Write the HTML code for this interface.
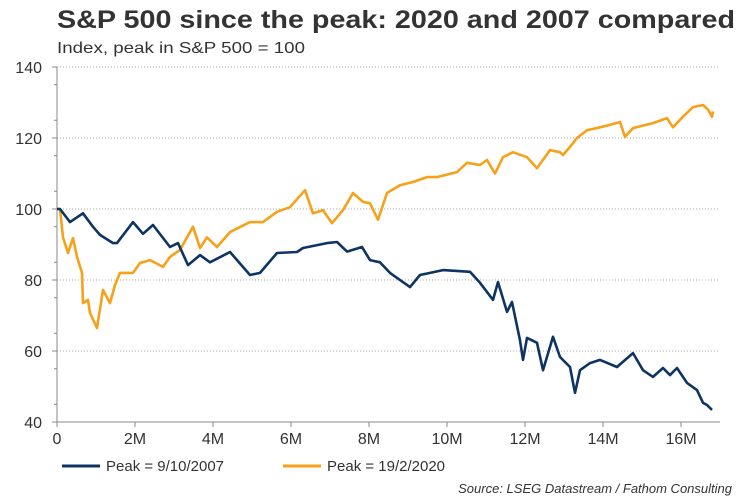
<!DOCTYPE html>
<html><head><meta charset="utf-8"><style>
body{margin:0;background:#fff;}
svg{display:block;font-family:"Liberation Sans",Arial,sans-serif;}
</style></head><body>
<svg width="750" height="500" viewBox="0 0 750 500">
<text x="57" y="28" font-size="25" font-weight="bold" fill="#333" textLength="678" lengthAdjust="spacingAndGlyphs">S&amp;P 500 since the peak: 2020 and 2007 compared</text>
<text x="57" y="53" font-size="16" fill="#333" textLength="248" lengthAdjust="spacingAndGlyphs">Index, peak in S&amp;P 500 = 100</text>
<g id="grid"></g><g id="axes"></g><g id="series"></g>
<line x1="62" y1="466" x2="100" y2="466" stroke="#0d3463" stroke-width="3"/>
<text x="106" y="471" font-size="15" fill="#333">Peak = 9/10/2007</text>
<line x1="283" y1="466" x2="321" y2="466" stroke="#f7a11a" stroke-width="3"/>
<text x="327" y="471" font-size="15" fill="#333">Peak = 19/2/2020</text>
<text x="732" y="493" text-anchor="end" font-size="13" font-style="italic" fill="#333">Source: LSEG Datastream / Fathom Consulting</text>
</svg>
<script>
const xTicks=[0,2,4,6,8,10,12,14,16];
const xTickLabels=["0","2M","4M","6M","8M","10M","12M","14M","16M"];
const yTicks=[40,60,80,100,120,140];
const xPix2007=[57,60,70,83,93,100,113,117,133,143,153,170,178,188,200,210,230,250,260,277,297,303,327,337,347,362,370,380,390,410,420,443,470,480,493,498,507,512,520,523,527,537,543,553,560,570,575,580,590,600,617,633,643,653,663,670,677,687,697,703,707,712];
const months2007=xPix2007.map(p=>(p-57)/39);
const values2007=[100,100,96.3,98.8,95,92.7,90.4,90.4,96.3,93,95.5,89.3,90.4,84.2,87,85,87.9,81.4,82,87.6,87.9,89,90.4,90.7,88,89.3,85.6,85,82,78,81.4,82.8,82.3,79.2,74.4,79.4,71,73.8,63,57.5,63.7,62.3,54.6,64,58.3,55.5,48.2,54.6,56.6,57.5,55.5,59.4,54.6,52.7,55.2,53.2,55.2,51,49,45.4,44.8,43.4];
const xPix2020=[57,60,63,68,73,77,82,83,88,90,97,103,110,115,120,133,140,150,163,170,180,193,200,207,217,230,250,263,277,290,305,313,323,332,343,353,363,370,378,387,400,413,427,437,457,467,480,487,495,503,513,527,532,537,550,560,563,570,577,587,600,610,620,625,633,653,667,673,683,693,703,708,712,713];
const months2020=xPix2020.map(p=>(p-57)/39);
const values2020=[100,100,92,87.6,91.8,86.5,82,73.5,74.4,70.7,66.5,77.2,73.5,78.6,82,82,84.8,85.6,83.7,86.5,88.5,95,89,92,89.3,93.5,96.3,96.3,99.2,100.5,105.3,98.8,99.7,96,99.7,104.5,102,101.6,97,104.5,106.7,107.6,109,109,110.4,113,112.4,113.8,110,114.6,116,114.6,113,111.5,116.6,116,115.2,117.5,120,122.2,123,123.7,124.5,120.3,122.8,124.2,125.6,123,126,128.7,129.3,128,126,127.5];
const X=m=>57+39*m, Y=v=>67+(140-v)*3.55;
const NS='http://www.w3.org/2000/svg';
function mk(t,a,p){const e=document.createElementNS(NS,t);for(const k in a)e.setAttribute(k,a[k]);p.appendChild(e);return e;}
const grid=document.getElementById('grid'),axes=document.getElementById('axes'),ser=document.getElementById('series');
yTicks.forEach(v=>{
 if(v>40){const g=mk('line',{x1:57,x2:720,y1:Y(v),y2:Y(v),stroke:'#aaa','stroke-dasharray':'1,2','stroke-width':1},grid);
 
 }
 const t=mk('text',{x:42,y:Y(v)+6,'text-anchor':'end','font-size':16,fill:'#333'},axes);t.textContent=v;
 
 
 mk('line',{x1:52,x2:57,y1:Y(v),y2:Y(v),stroke:'#888'},axes);
});
for(let v=45;v<140;v+=10){mk('line',{x1:54,x2:57,y1:Y(v),y2:Y(v),stroke:'#888'},axes);}
const ya=mk('line',{x1:57,x2:57,y1:Y(140),y2:Y(40),stroke:'#888'},axes);


const xa=mk('line',{x1:57,x2:720,y1:Y(40),y2:Y(40),stroke:'#888'},axes);


xTicks.forEach((m,i)=>{
 mk('line',{x1:X(m),x2:X(m),y1:Y(40),y2:Y(40)+5,stroke:'#888'},axes);
 const t=mk('text',{x:X(m),y:444,'text-anchor':'middle','font-size':16,fill:'#333'},axes);t.textContent=xTickLabels[i];
 
 
});
function line(ms,vs,c,name){
 const d=ms.map((m,i)=>(i?'L':'M')+X(m).toFixed(1)+','+Y(vs[i]).toFixed(1)).join('');
 const p=mk('path',{d:d,fill:'none',stroke:c,'stroke-width':2.6,'stroke-linejoin':'round'},ser);
 
 
}
line(months2020,values2020,'#f7a11a','series-2020');
line(months2007,values2007,'#0d3463','series-2007');
</script>
</body></html>
